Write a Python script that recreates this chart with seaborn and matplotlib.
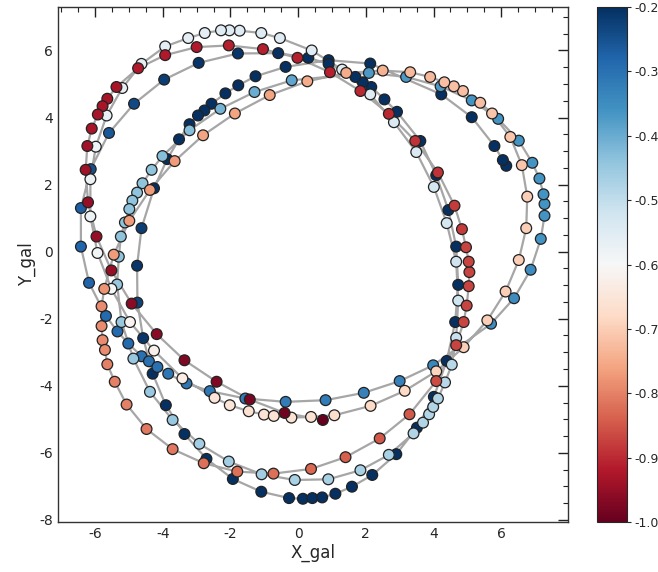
import numpy as np
import pandas as pd
import matplotlib
matplotlib.use("Agg")
import matplotlib.pyplot as plt
import seaborn as sns
from matplotlib.colors import Normalize
from matplotlib.cm import ScalarMappable
from matplotlib.ticker import MultipleLocator

# orbit sample points in time order (x, y) and colour value
x_gal = [6.15, 6.05, 5.80, 5.13, 4.23, 2.13, 0.90,
         -0.37, -1.26, -1.77, -2.15, -2.56, -2.77, -2.96, -3.21, -3.52, -3.87, -4.26,
         -4.63, -4.76, -4.75, -4.58, -4.30, -3.91, -3.36, -2.71, -1.93, -1.09, -0.27,
         0.14, 0.42, 0.71, 1.10, 1.59, 2.19, 2.90, 3.51, 4.01, 4.39, 4.64, 4.73, 4.67,
         4.44, 4.08, 3.61, 2.92, 2.55, 2.16, 1.91, 1.69, 0.90, 0.30, -0.59, -1.78,
         -2.94, -3.96, -4.85, -5.59, -6.13, -6.42, -6.42, -6.18, -5.68, -5.34, -5.02,
         -4.63, -4.41, -4.16, -3.84, -3.30, -2.61, -1.56, -0.37, 0.81, 1.94, 3.00, 3.99,
         5.70, 6.38, 6.87, 7.17, 7.28, 7.28, 7.25, 7.13, 6.92, 6.52, 5.91, 5.13, 4.21,
         3.19, 2.09, -0.19, -1.29, -2.30, -3.21, -4.01, -4.33, -4.60, -4.76, -4.90,
         -4.99, -5.12, -5.24, -5.30, -5.35, -5.22, -4.87, -4.38, -3.71, -2.92, -2.05,
         -1.08, -0.10, 0.89, 1.84, 2.68, 3.41, 3.69, 3.87, 3.99, 4.13, 4.34, 4.54,
         4.67, 4.73, 4.67, 4.39, 4.01, 3.49, 2.83, 2.13, 1.30, 0.40, -0.54, -1.09,
         -1.73, -2.03, -2.28, -2.76, -3.25, -3.93, -4.63, -5.20, -5.66, -5.98, -6.14,
         -6.14, -5.93, -5.52, -4.97, -4.26, -3.42, -2.47, -2.02, -1.46, -1.01, -0.72,
         -0.20, 0.38, 1.07, 2.14, 3.15, 4.08, 4.89, 5.59, 6.13, 6.52, 6.74, 6.77, 6.61,
         6.27, 5.73, 5.38, 4.87, 4.60, 4.32, 3.90, 3.31, 2.50, 1.42, 0.27, -0.84,
         -1.87, -2.81, -3.65, -4.38, -4.99, -5.45, -5.73, -5.81, -5.81, -5.78, -5.71,
         -5.64, -5.42, -5.07, -4.48, -3.71, -2.79, -1.80, -0.73, 0.38, 1.40, 2.41,
         3.29, 4.08, 4.67, 4.89, 4.98, 5.04, 5.06, 5.04, 4.96, 4.84, 4.62, 4.13, 3.46,
         2.68, 1.84, 0.94, -0.02, -1.04, -2.05, -3.00, -3.93, -4.73, -5.37, -5.64,
         -5.78, -5.92, -6.10, -6.23, -6.28, -6.21, -5.96, -5.52, -4.92, -4.18, -3.36,
         -2.41, -1.43, -0.40, 0.73]

y_gal = [2.56, 2.73, 3.15, 4.01, 4.69, 5.61, 5.71,
         5.51, 5.23, 4.96, 4.72, 4.41, 4.21, 4.06, 3.80, 3.35, 2.76, 1.89,
         0.70, -0.42, -1.52, -2.58, -3.64, -4.58, -5.44, -6.18, -6.78, -7.16, -7.35,
         -7.37, -7.35, -7.33, -7.22, -7.01, -6.66, -6.04, -5.25, -4.33, -3.26, -2.10, -0.99, 0.15,
         1.24, 2.28, 3.30, 4.17, 4.54, 4.91, 5.05, 5.21, 5.60, 5.78, 5.92, 5.91,
         5.63, 5.13, 4.41, 3.54, 2.46, 1.30, 0.15, -0.93, -1.92, -2.38, -2.74,
         -3.12, -3.27, -3.44, -3.64, -3.93, -4.16, -4.38, -4.48, -4.43, -4.21, -3.86, -3.39,
         -2.15, -1.39, -0.54, 0.38, 1.07, 1.42, 1.71, 2.18, 2.65, 3.31, 3.96, 4.51, 4.93,
         5.21, 5.33, 5.11, 4.76, 4.26, 3.62, 2.85, 2.44, 2.04, 1.76, 1.52,
         1.27, 0.87, 0.45, -0.15, -0.98, -2.10, -3.19, -4.18, -5.02, -5.73, -6.26,
         -6.64, -6.81, -6.79, -6.52, -6.06, -5.42, -5.10, -4.85, -4.63, -4.38, -3.90, -3.37,
         -2.57, -1.46, -0.30, 0.85, 1.93, 2.97, 3.86, 4.69, 5.43, 6.00, 6.37, 6.52,
         6.59, 6.60, 6.60, 6.52, 6.37, 6.12, 5.60, 4.88, 4.06, 3.13, 2.16,
         1.05, -0.04, -1.11, -2.10, -2.95, -3.78, -4.36, -4.58, -4.76, -4.86, -4.90,
         -4.95, -4.93, -4.88, -4.60, -4.15, -3.57, -2.85, -2.05, -1.19, -0.25, 0.70, 1.64, 2.58,
         3.42, 4.12, 4.44, 4.79, 4.93, 5.05, 5.21, 5.35, 5.40, 5.33, 5.08, 4.67,
         4.12, 3.47, 2.70, 1.84, 0.92, -0.09, -1.11, -1.63, -2.22, -2.64, -2.93,
         -3.36, -3.88, -4.56, -5.29, -5.89, -6.31, -6.56, -6.62, -6.48, -6.13, -5.57,
         -4.85, -3.86, -2.79, -2.10, -1.61, -1.03, -0.61, -0.30, 0.13, 0.67, 1.37, 2.36, 3.30,
         4.11, 4.79, 5.35, 5.78, 6.04, 6.15, 6.10, 5.86, 5.47, 4.91, 4.56,
         4.34, 4.09, 3.67, 3.15, 2.44, 1.47, 0.45, -0.56, -1.55, -2.46, -3.24,
         -3.88, -4.41, -4.81, -5.02]

c_val = [-0.20, -0.20, -0.20, -0.20, -0.20, -0.20, -0.20,
         -0.20, -0.20, -0.20, -0.20, -0.20, -0.20, -0.20, -0.20, -0.20, -0.20, -0.20,
         -0.22, -0.21, -0.23, -0.21, -0.20, -0.20, -0.20, -0.20, -0.20, -0.20, -0.20,
         -0.20, -0.20, -0.20, -0.20, -0.20, -0.20, -0.20, -0.20, -0.20, -0.20, -0.20, -0.20, -0.20,
         -0.20, -0.20, -0.20, -0.20, -0.20, -0.20, -0.20, -0.20, -0.20, -0.20, -0.20, -0.21,
         -0.21, -0.22, -0.24, -0.26, -0.25, -0.27, -0.28, -0.28, -0.29, -0.29, -0.29,
         -0.30, -0.30, -0.30, -0.31, -0.31, -0.31, -0.32, -0.32, -0.32, -0.33, -0.33, -0.34,
         -0.35, -0.35, -0.35, -0.36, -0.36, -0.36, -0.36, -0.36, -0.36, -0.36, -0.36, -0.36, -0.37,
         -0.37, -0.37, -0.39, -0.40, -0.41, -0.43, -0.43, -0.44, -0.44, -0.44, -0.44,
         -0.44, -0.44, -0.44, -0.44, -0.45, -0.45, -0.45, -0.45, -0.45, -0.46, -0.46,
         -0.46, -0.47, -0.47, -0.47, -0.47, -0.48, -0.48, -0.48, -0.48, -0.48, -0.49, -0.49,
         -0.51, -0.52, -0.52, -0.53, -0.53, -0.54, -0.54, -0.55, -0.55, -0.55, -0.55, -0.55,
         -0.55, -0.55, -0.55, -0.56, -0.56, -0.56, -0.56, -0.57, -0.57, -0.58, -0.58,
         -0.58, -0.59, -0.60, -0.61, -0.62, -0.63, -0.65, -0.65, -0.66, -0.66, -0.66,
         -0.66, -0.66, -0.67, -0.68, -0.68, -0.69, -0.70, -0.70, -0.70, -0.70, -0.70, -0.70, -0.71,
         -0.71, -0.71, -0.72, -0.72, -0.72, -0.72, -0.73, -0.73, -0.74, -0.75, -0.75, -0.76,
         -0.76, -0.76, -0.77, -0.77, -0.77, -0.77, -0.78, -0.79, -0.79, -0.79, -0.79,
         -0.80, -0.80, -0.80, -0.81, -0.81, -0.82, -0.82, -0.82, -0.83, -0.84, -0.85,
         -0.85, -0.86, -0.87, -0.87, -0.87, -0.87, -0.87, -0.87, -0.87, -0.88, -0.88, -0.89, -0.89,
         -0.90, -0.90, -0.91, -0.91, -0.91, -0.91, -0.92, -0.92, -0.92, -0.93, -0.93,
         -0.93, -0.93, -0.93, -0.94, -0.94, -0.95, -0.95, -0.95, -0.96, -0.96, -0.97,
         -0.97, -0.98, -0.99, -1.00]

cbar_ticks = [-1.0, -0.9, -0.8, -0.7, -0.6, -0.5, -0.4, -0.3, -0.2]

df = pd.DataFrame({"X_gal": x_gal, "Y_gal": y_gal, "c": c_val})

sns.set_style("white")
plt.rcParams["font.family"] = ["DejaVu Sans"]
plt.rcParams["axes.unicode_minus"] = False

fig = plt.figure(figsize=(6.58, 5.72), dpi=100)
ax = fig.add_axes([0.088, 0.087, 0.775, 0.901])
cax = fig.add_axes([0.907, 0.087, 0.046, 0.901])

norm = Normalize(vmin=-1.0, vmax=-0.2)
sns.lineplot(data=df, x="X_gal", y="Y_gal", sort=False, estimator=None,
             color="#a6a6a6", linewidth=1.6, ax=ax, zorder=1)
sns.scatterplot(data=df, x="X_gal", y="Y_gal", hue="c", palette="RdBu",
                hue_norm=norm, legend=False, s=60, edgecolor="#222222",
                linewidth=0.9, ax=ax, zorder=2)

ax.set_xlim(-7.1, 7.97)
ax.set_ylim(-8.07, 7.30)
ax.xaxis.set_major_locator(MultipleLocator(2))
ax.yaxis.set_major_locator(MultipleLocator(2))
ax.xaxis.set_minor_locator(MultipleLocator(0.5))
ax.yaxis.set_minor_locator(MultipleLocator(0.5))
ax.tick_params(which="both", direction="in", top=True, right=True, labelsize=10, color="#222222")
ax.tick_params(which="major", length=7, width=1)
ax.tick_params(which="minor", length=3.5, width=0.8)
ax.set_xlabel("X_gal", fontsize=12, labelpad=2)
ax.set_ylabel("Y_gal", fontsize=12, labelpad=2)
for sp in ax.spines.values():
    sp.set_color("#333333")
    sp.set_linewidth(1.0)

sm = ScalarMappable(norm=norm, cmap="RdBu")
cb = fig.colorbar(sm, cax=cax, ticks=cbar_ticks)
cb.ax.tick_params(labelsize=9, direction="out", length=3, pad=2)
cb.ax.set_yticklabels([f"{t:.1f}" for t in cbar_ticks])
cb.outline.set_linewidth(0.8)

fig.savefig("out.png", dpi=100)
